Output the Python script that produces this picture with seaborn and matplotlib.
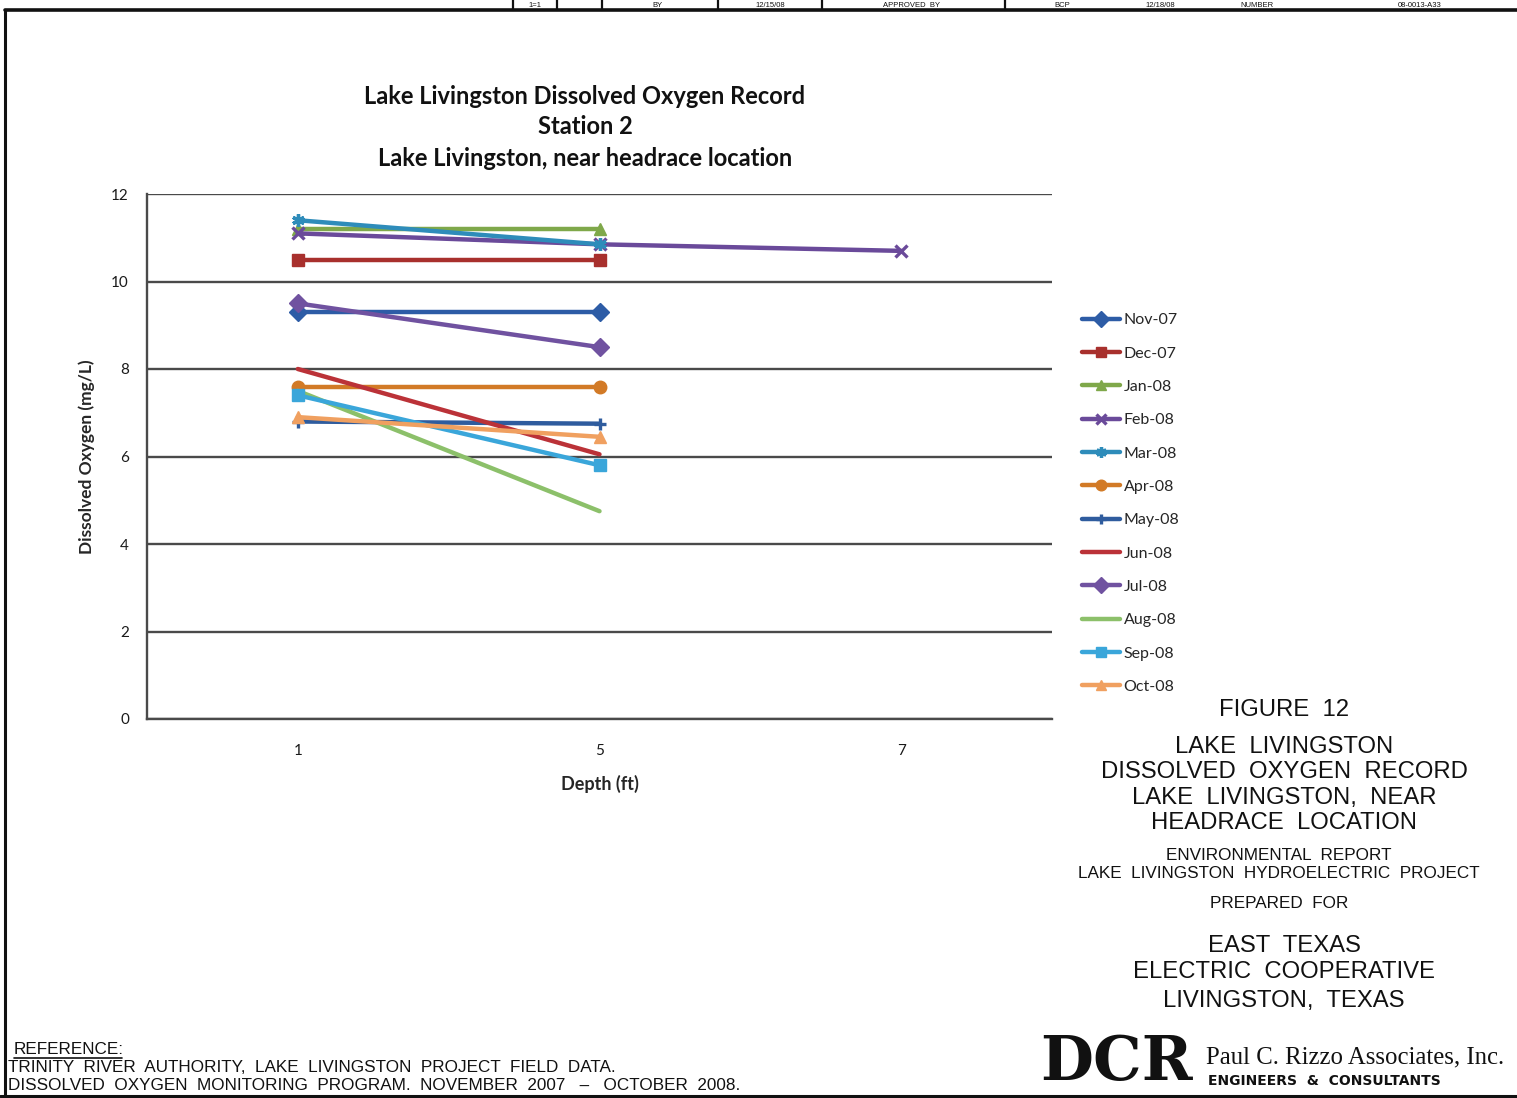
import matplotlib
matplotlib.use("Agg")
import matplotlib.pyplot as plt
from matplotlib.lines import Line2D
import numpy as np
import pandas as pd
import seaborn as sns

# ---- data -------------------------------------------------------------
depths = ["1", "5", "7"]
months = ["Nov-07", "Dec-07", "Jan-08", "Feb-08", "Mar-08", "Apr-08",
          "May-08", "Jun-08", "Jul-08", "Aug-08", "Sep-08", "Oct-08"]

nov07 = [9.3, 9.3, None]
dec07 = [10.5, 10.5, None]
jan08 = [11.2, 11.2, None]
feb08 = [11.1, 10.85, 10.7]
mar08 = [11.4, 10.85, None]
apr08 = [7.6, 7.6, None]
may08 = [6.8, 6.75, None]
jun08 = [8.0, 6.05, None]
jul08 = [9.5, 8.5, None]
aug08 = [7.5, 4.75, None]
sep08 = [7.4, 5.8, None]
oct08 = [6.9, 6.45, None]

series = [nov07, dec07, jan08, feb08, mar08, apr08,
          may08, jun08, jul08, aug08, sep08, oct08]

colors = ["#2d5ca6", "#a8302d", "#7fa84a", "#6a4a9a", "#2e8cba", "#d27a26",
          "#2f5c9e", "#bb3238", "#7052a0", "#8cc06a", "#3aa6da", "#f0a060"]
markers = ["D", "s", "^", "x", (6, 2, 0), "o", "+", "", "D", "", "s", "^"]

y_ticks = [0, 2, 4, 6, 8, 10, 12]

W, H = 1517, 1098


def px(x, y):
    return x / W, 1 - y / H


sns.set_theme(style="white")
plt.rcParams["font.family"] = ["Lato", "DejaVu Sans"]

fig = plt.figure(figsize=(W / 100, H / 100), dpi=100)
ax = fig.add_axes([147 / W, 1 - 719 / H, 905 / W, 525 / H])

for name, vals, col, mk in zip(months, series, colors, markers):
    df = pd.DataFrame({"Depth": depths, "DO": vals}).dropna()
    sns.lineplot(data=df, x="Depth", y="DO", ax=ax, color=col, lw=3.2,
                 marker=mk if mk else None, markersize=9,
                 markeredgewidth=2.4 if mk in ("x", "+", (6, 2, 0)) else 1.0,
                 markeredgecolor=col, label=name, sort=False)

ax.set_xlim(-0.5, 2.5)
ax.set_ylim(0, 12)
ax.set_yticks(y_ticks)
ax.set_yticklabels([str(t) for t in y_ticks], fontsize=11, color="#1a1a1a")
ax.yaxis.grid(True, color="#4a4a4a", lw=1.7)
ax.xaxis.grid(False)
ax.set_xticks([0, 1, 2])
ax.set_xticks([-0.5, 0.5, 1.5, 2.5], minor=True)
ax.tick_params(axis="x", which="major", length=0, pad=18, labelsize=11,
               labelcolor="#1a1a1a")
ax.tick_params(axis="x", which="minor", length=5, width=1.5,
               color="#4a4a4a", direction="in")
ax.tick_params(axis="y", which="major", length=7, width=1.5,
               color="#4a4a4a", direction="out", pad=6)
for s in ["top", "right"]:
    ax.spines[s].set_visible(False)
for s in ["left", "bottom"]:
    ax.spines[s].set_color("#4a4a4a")
    ax.spines[s].set_linewidth(1.7)
ax.set_xlabel("Depth (ft)", fontsize=13, fontweight="bold", labelpad=12)
ax.set_ylabel("Dissolved Oxygen (mg/L)", fontsize=12.5, fontweight="bold",
              labelpad=12)
ax.get_legend().remove()

# chart title
for txt, yy in [("Lake Livingston Dissolved Oxygen Record", 96),
                ("Station 2", 127),
                ("Lake Livingston, near headrace location", 158)]:
    fig.text(*px(585, yy), txt, ha="center", va="center", fontsize=17,
             fontweight="bold", color="#111111")

# legend
handles, labels = ax.get_legend_handles_labels()
fig.legend(handles, labels, loc="upper left", bbox_to_anchor=px(1082, 313),
           frameon=False, fontsize=11.5, handlelength=2.4, handletextpad=0.2,
           labelspacing=1.2, borderpad=0, borderaxespad=0, markerscale=0.85)

# figure caption block
cad = ["Liberation Sans Narrow", "Liberation Sans", "DejaVu Sans"]
big = [("FIGURE  12", 710), ("LAKE  LIVINGSTON", 747),
       ("DISSOLVED  OXYGEN  RECORD", 772), ("LAKE  LIVINGSTON,  NEAR", 798),
       ("HEADRACE  LOCATION", 823), ("EAST  TEXAS", 946),
       ("ELECTRIC  COOPERATIVE", 972), ("LIVINGSTON,  TEXAS", 1001)]
for txt, yy in big:
    fig.text(*px(1284, yy), txt, ha="center", va="center", fontsize=17.2,
             family=cad, color="#111111")
small = [("ENVIRONMENTAL  REPORT", 856),
         ("LAKE  LIVINGSTON  HYDROELECTRIC  PROJECT", 873),
         ("PREPARED  FOR", 904)]
for txt, yy in small:
    fig.text(*px(1279, yy), txt, ha="center", va="center", fontsize=12.3,
             family=cad, color="#111111")

# reference note
fig.text(*px(14, 1049), "REFERENCE:", ha="left", va="center", fontsize=12.3,
         family=cad, color="#111111")
fig.add_artist(Line2D([14 / W, 122 / W], [1 - 1058 / H, 1 - 1058 / H],
                      color="#111111", lw=1.2))
fig.text(*px(8, 1068), "TRINITY  RIVER  AUTHORITY,  LAKE  LIVINGSTON  PROJECT  FIELD  DATA.",
         ha="left", va="center", fontsize=12.3, family=cad, color="#111111")
fig.text(*px(8, 1085), "DISSOLVED  OXYGEN  MONITORING  PROGRAM.  NOVEMBER  2007   \u2013   OCTOBER  2008.",
         ha="left", va="center", fontsize=12.3, family=cad, color="#111111")

# firm logo and name
fig.text(*px(1040, 1063), "DCR", ha="left", va="center", fontsize=44,
         fontweight="bold", family="DejaVu Serif", color="#111111")
fig.text(*px(1206, 1057), "Paul C. Rizzo Associates, Inc.", ha="left",
         va="center", fontsize=17.8, family="Liberation Serif", color="#111111")
fig.text(*px(1208, 1081), "ENGINEERS  &  CONSULTANTS", ha="left",
         va="center", fontsize=10, fontweight="bold", family="DejaVu Sans",
         color="#111111")

# drawing sheet border and title block row
fig.add_artist(Line2D([5 / W, 1], [1 - 10 / H, 1 - 10 / H], color="#111111", lw=2.6))
fig.add_artist(Line2D([5 / W, 5 / W], [0, 1 - 10 / H], color="#111111", lw=2.2))
fig.add_artist(Line2D([0, 1], [1 - 1096 / H, 1 - 1096 / H], color="#111111", lw=2.2))
for xx in [513, 557, 602, 718, 822, 1005]:
    fig.add_artist(Line2D([xx / W, xx / W], [1 - 10 / H, 1], color="#111111", lw=1.6))
for txt, xx in [("1=1", 535), ("BY", 657), ("12/15/08", 770),
                ("APPROVED  BY", 912), ("BCP", 1062), ("12/18/08", 1160),
                ("NUMBER", 1257), ("08-0013-A33", 1420)]:
    fig.text(*px(xx, 9), txt, ha="center", va="bottom", fontsize=5.5,
             family=cad, color="#111111")

fig.savefig("out.png", dpi=100, facecolor="white")
